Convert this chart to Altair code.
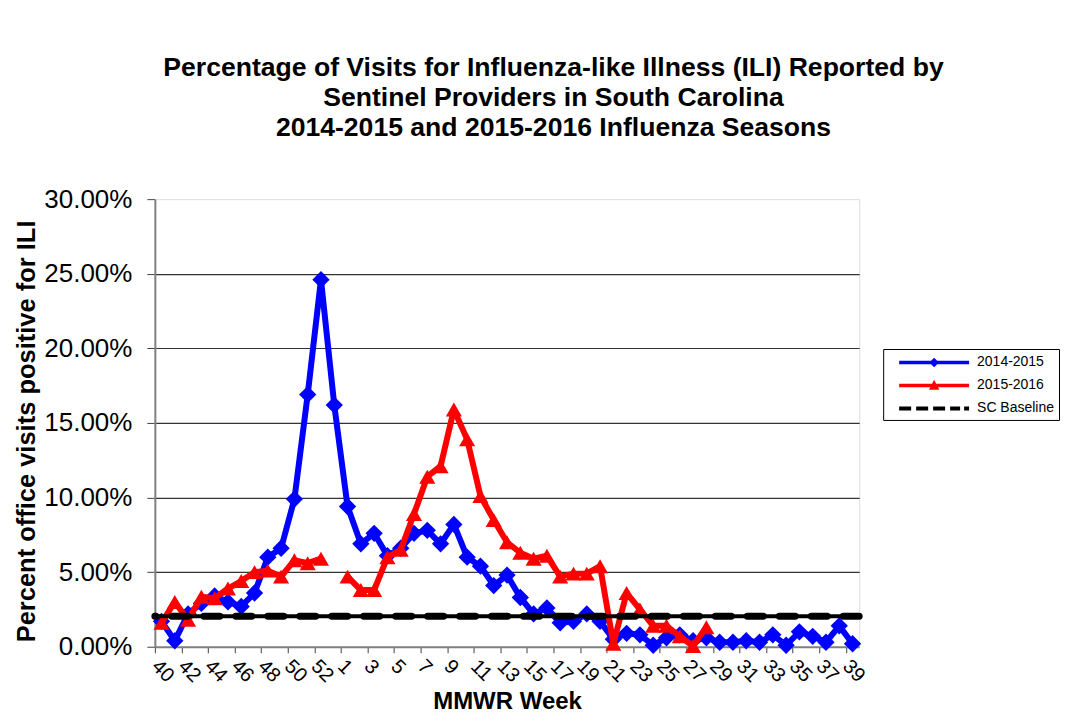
import json
import altair as alt
import pandas as pd

# ---------------- data ----------------
weeks = [40, 41, 42, 43, 44, 45, 46, 47, 48, 49, 50, 51, 52, 53,
         1, 2, 3, 4, 5, 6, 7, 8, 9, 10, 11, 12, 13, 14, 15, 16, 17, 18, 19, 20,
         21, 22, 23, 24, 25, 26, 27, 28, 29, 30, 31, 32, 33, 34, 35, 36, 37, 38, 39]

ili_2014_2015 = [1.7, 0.4, 2.2, 2.9, 3.4, 3.0, 2.7, 3.6, 6.0, 6.6, 9.9, 16.9, 24.6, 16.2,
                 9.4, 6.9, 7.6, 6.1, 6.6, 7.6, 7.8, 6.9, 8.2, 6.0, 5.4, 4.1, 4.8, 3.3, 2.2, 2.6,
                 1.6, 1.7, 2.2, 1.7, 0.5, 0.9, 0.8, 0.1, 0.6, 0.8, 0.4, 0.6, 0.3, 0.3, 0.4,
                 0.3, 0.8, 0.1, 1.0, 0.7, 0.3, 1.4, 0.2]

ili_2015_2016 = [1.6, 3.0, 1.8, 3.35, 3.25, 3.9, 4.4, 5.0, 5.1, 4.7, 5.8, 5.6, 5.9, None,
                 4.7, 3.8, 3.8, 6.0, 6.5, 8.9, 11.4, 12.1, 15.9, 13.9, 10.1, 8.5, 7.0, 6.3, 5.9, 6.1,
                 4.7, 4.9, 4.9, 5.4, 0.2, 3.6, 2.5, 1.4, 1.4, 0.7, 0.05, 1.3,
                 None, None, None, None, None, None, None, None, None, None, None]

sc_baseline = 2.05

series_names = ["2014-2015", "2015-2016", "SC Baseline"]
series_colors = ["#0000FF", "#FF0000", "#000000"]

y_ticks = [0, 5, 10, 15, 20, 25, 30]

title_lines = [
    "Percentage of Visits for Influenza-like Illness (ILI) Reported by",
    "Sentinel Providers in South Carolina",
    "2014-2015 and 2015-2016 Influenza Seasons",
]
y_title = "Percent office visits positive for ILI"
x_title = "MMWR Week"

# ---------------- tables ----------------
n = len(weeks)
blue_df = pd.DataFrame({"idx": list(range(n)), "week": weeks, "value": ili_2014_2015})

rows = []
seg = 0
for i, v in enumerate(ili_2015_2016):
    if v is None:
        seg += 1
        continue
    rows.append({"idx": i, "week": weeks[i], "value": v, "seg": seg})
red_df = pd.DataFrame(rows)

base_df = pd.DataFrame({"value": [sc_baseline]})
leg_df = pd.DataFrame({"series": series_names})

# ---------------- layout / style ----------------
FONT = "Liberation Sans, Arial, sans-serif"
W, H = 705, 448
band = W / n

label_list = json.dumps([str(w) for w in weeks])

x_axis = alt.Axis(
    values=list(range(0, n, 2)),
    labelExpr=f"{label_list}[datum.value]",
    tickOffset=-band / 2,
    labelOffset=band / 2,
    labelAngle=45,
    labelAlign="left",
    labelBaseline="top",
    labelFontSize=20,
    labelFont=FONT,
    labelColor="black",
    labelOverlap=False,
    labelFlush=False,
    labelPadding=3,
    grid=False,
    tickSize=6,
    tickColor="#404040",
    domainColor="#808080",
    domainWidth=2,
    title=x_title,
    titleFont=FONT,
    titleFontSize=24,
    titleFontWeight="bold",
    titleColor="black",
    titleY=55,
    titleBaseline="middle",
)

y_axis = alt.Axis(
    values=y_ticks,
    labelExpr="format(datum.value, '.2f') + '%'",
    labelFontSize=26,
    labelFont=FONT,
    labelColor="black",
    labelPadding=15,
    tickSize=8,
    tickColor="#404040",
    domainColor="#808080",
    domainWidth=2,
    grid=True,
    gridColor={"condition": {"test": "datum.value >= 30 || datum.value <= 0", "value": "transparent"},
               "value": "#333333"},
    gridWidth=1.2,
    title=y_title,
    titleFont=FONT,
    titleFontSize=25.5,
    titleFontWeight="bold",
    titleColor="black",
    titleX=-128,
    titleY=H / 2 + 8,
    titleBaseline="middle",
)

x_enc = alt.X("idx:Q", scale=alt.Scale(domain=[-0.5, n - 0.5], nice=False, zero=False), axis=x_axis)
y_enc = alt.Y("value:Q", scale=alt.Scale(domain=[0, 30], nice=False, zero=True), axis=y_axis)

# ---------------- legend symbols (line + marker drawn as filled paths) ----------------
SYM = 19.0          # legend symbol box (px)
U = SYM / 2         # path unit in px
LS, LE, MID = 2.5, 72.5, 37.5   # line start / end / marker centre, px from symbol centre


def f(v):
    return f"{v / U:.3f}"


def rect(x0, x1, y0, y1):
    return f"M{f(x0)},{f(y0)}L{f(x1)},{f(y0)}L{f(x1)},{f(y1)}L{f(x0)},{f(y1)}Z"


def diamond(cx, d):
    return f"M{f(cx - d)},0L{f(cx)},{f(-d)}L{f(cx + d)},0L{f(cx)},{f(d)}Z"


def triangle(cx, w, top, bot):
    return f"M{f(cx)},{f(top)}L{f(cx + w)},{f(bot)}L{f(cx - w)},{f(bot)}Z"


path_blue = rect(LS, LE, -1.8, 1.8) + diamond(MID, 4.8)
path_red = rect(LS, LE, -1.8, 1.8) + triangle(MID, 5.2, -5.8, 4.2)
dash_segments = [(2.5, 14.5), (19.5, 31.5), (36.5, 48.5), (53.5, 63.5), (67.5, 72.5)]
path_base = "".join(rect(a, b, -2.0, 2.0) for a, b in dash_segments)
shape_paths = [path_blue, path_red, path_base]

legend = alt.Legend(
    title=None,
    orient="none",
    legendX=729,
    legendY=150,
    padding=4,
    strokeColor="black",
    fillColor="white",
    symbolSize=SYM * SYM,
    symbolStrokeWidth=0,
    symbolOpacity=1,
    rowPadding=6,
    labelOffset=71,
    labelFontSize=14,
    labelFont=FONT,
    labelColor="black",
    labelLimit=300,
)

# ---------------- layers ----------------
blue_line = alt.Chart(blue_df).mark_line(color=series_colors[0], strokeWidth=6, strokeJoin="round").encode(
    x=x_enc, y=y_enc)
blue_pts = alt.Chart(blue_df).mark_point(shape="diamond", filled=True, size=300, color=series_colors[0],
                                         opacity=1).encode(x=x_enc, y=y_enc)

red_line = alt.Chart(red_df).mark_line(color=series_colors[1], strokeWidth=6, strokeJoin="round").encode(
    x=x_enc, y=y_enc, detail="seg:N")
red_pts = alt.Chart(red_df).mark_point(shape="triangle-up", filled=True, size=260, color=series_colors[1],
                                       opacity=1).encode(x=x_enc, y=y_enc)

base_thin = alt.Chart(base_df).mark_rule(color=series_colors[2], strokeWidth=4).encode(y=y_enc)
base_dash = alt.Chart(base_df).mark_rule(color=series_colors[2], strokeWidth=7, strokeDash=[16, 16],
                                         strokeCap="round").encode(y=y_enc)

legend_layer = alt.Chart(leg_df).transform_filter("false").mark_point(filled=True, opacity=1).encode(
    color=alt.Color("series:N", scale=alt.Scale(domain=series_names, range=series_colors), legend=legend),
    shape=alt.Shape("series:N", scale=alt.Scale(domain=series_names, range=shape_paths), legend=legend),
)

chart = alt.layer(
    blue_line, blue_pts, red_line, red_pts, base_thin, base_dash, legend_layer
).properties(
    width=W,
    height=H,
    autosize=alt.AutoSizeParams(type="none"),
    padding={"left": 147, "top": 191, "right": 205, "bottom": 66},
    title=alt.TitleParams(
        text=title_lines,
        font=FONT,
        fontSize=26.6,
        fontWeight="bold",
        color="black",
        anchor="middle",
        frame="group",
        dx=46.5,
        offset=45,
        lineHeight=30,
    ),
).configure_view(
    stroke="#d9d9d9",
    strokeWidth=5,
).configure(
    background="white",
)

chart.save("out.html", embed_options={"renderer": "svg", "actions": False})
